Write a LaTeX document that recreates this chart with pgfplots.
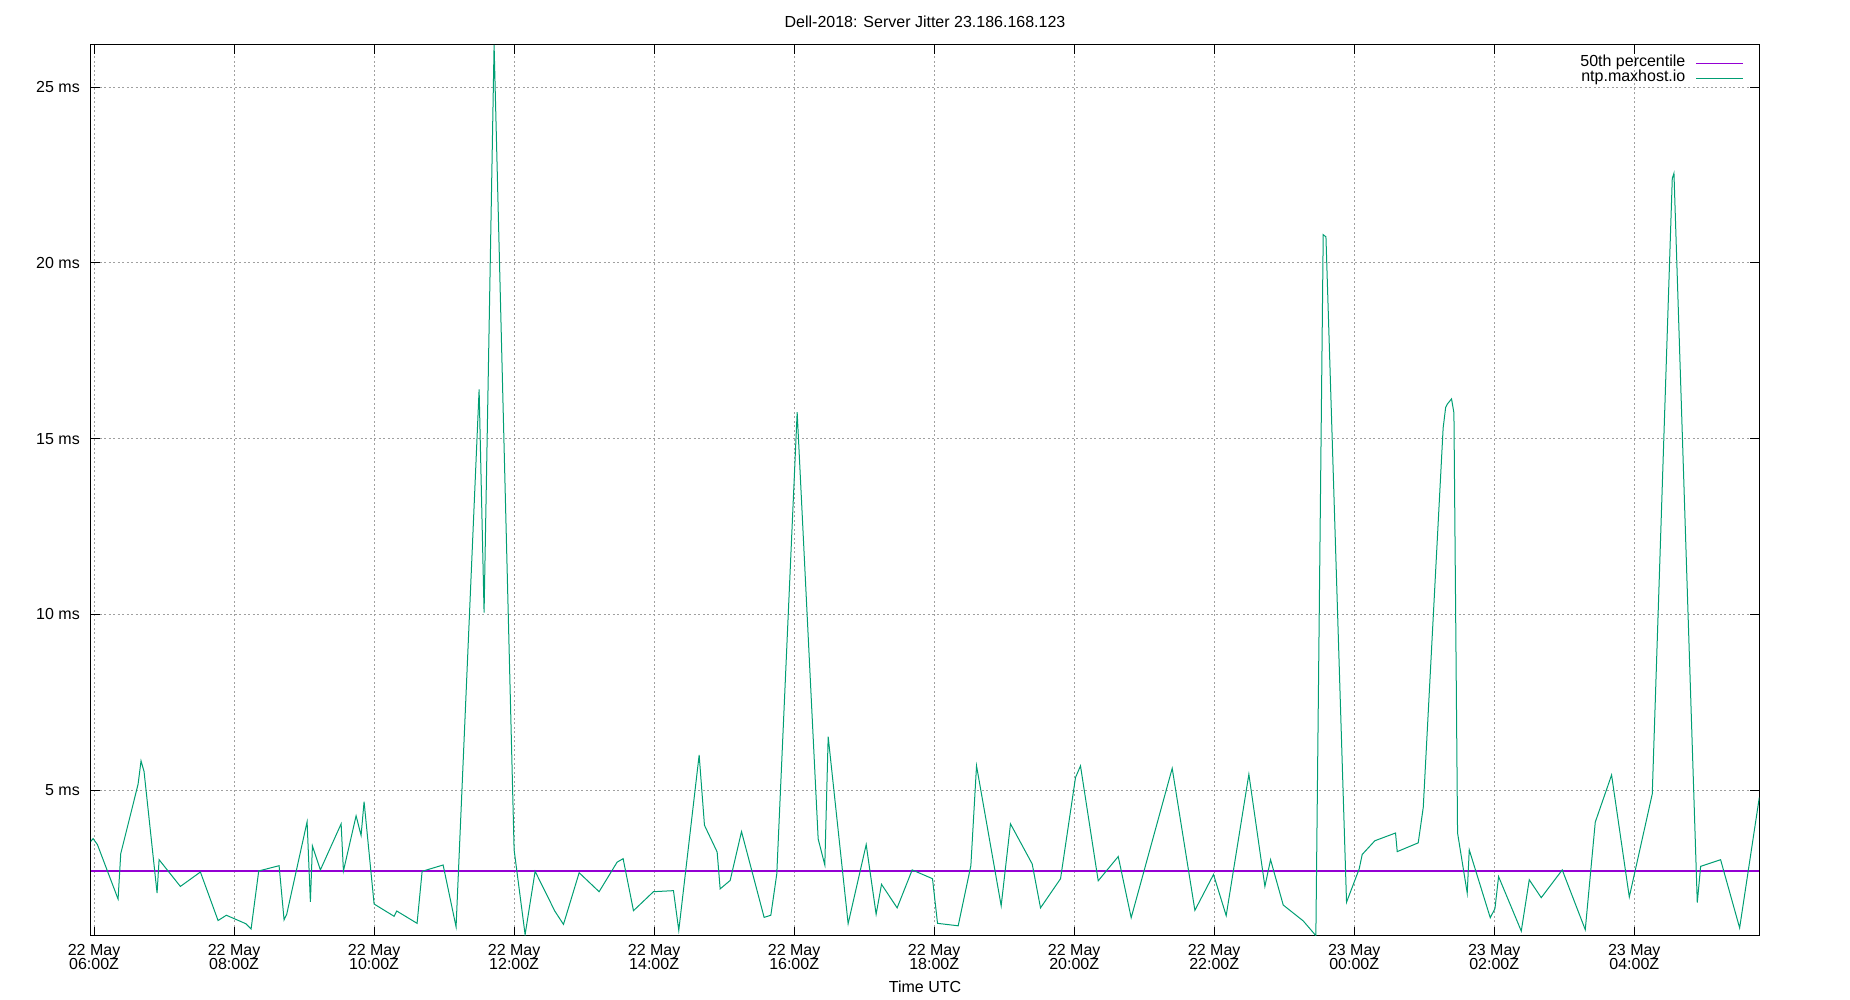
\documentclass[border=0pt]{standalone}
\usepackage{fontspec}
\setmainfont{Liberation Sans}
\usepackage{pgfplots}
\pgfplotsset{compat=1.18}
\definecolor{gpgreen}{HTML}{009E73}
\definecolor{gppurple}{HTML}{9400D3}
\definecolor{gpgrid}{HTML}{A0A0A0}
\newcommand{\tl}[2]{\vtop{\baselineskip=14.3pt\lineskiplimit=-20pt\lineskip=0pt\halign{\hfil##\hfil\cr#1\cr#2\cr}}}
\begin{document}
\begin{tikzpicture}
\useasboundingbox (0,0) rectangle (1850pt,1000pt);
\begin{axis}[
  at={(90.7pt,64pt)}, anchor=south west,
  scale only axis, width=1668.6pt, height=891.1pt,
  xmin=5.952, xmax=29.786, ymin=0.85, ymax=26.2,
  axis line style={black, line width=1pt},
  xtick={6,8,10,12,14,16,18,20,22,24,26,28},
  xticklabels={\tl{22 May}{06:00Z},\tl{22 May}{08:00Z},\tl{22 May}{10:00Z},\tl{22 May}{12:00Z},\tl{22 May}{14:00Z},\tl{22 May}{16:00Z},\tl{22 May}{18:00Z},\tl{22 May}{20:00Z},\tl{22 May}{22:00Z},\tl{23 May}{00:00Z},\tl{23 May}{02:00Z},\tl{23 May}{04:00Z}},
  ytick={5,10,15,20,25},
  yticklabels={5 ms,10 ms,15 ms,20 ms,25 ms},
  tick align=inside, xtick pos=both, ytick pos=both,
  major tick length=9pt,
  every tick/.style={black, line width=1pt},
  xticklabel style={anchor=north, inner sep=0pt, yshift=-8pt,
    font=\fontsize{16}{14.3}\selectfont},
  yticklabel style={anchor=east, inner sep=0pt, xshift=-10.7pt,
    font=\fontsize{16}{14.3}\selectfont},
  grid=major,
  major grid style={gpgrid, line width=1pt, dash pattern=on 2pt off 2.5pt},
  xlabel={Time UTC},
  xlabel style={at={(axis description cs:0.5,0)}, anchor=center, yshift=-51pt, inner sep=0pt,
    font=\fontsize{16}{14.3}\selectfont},
  legend plot pos=right,
  legend cell align=right,
  legend image code/.code={\draw[#1] (0pt,0pt) -- (46.5pt,0pt);},
  legend style={draw=none, fill=none, inner sep=0pt, anchor=north east,
    at={(axis description cs:0.99045,0.98788)},
    font=\fontsize{16}{14.3}\selectfont,
    nodes={inner sep=0pt, text height=11pt, text depth=4pt},
    row sep=-0.3pt, column sep=10pt},
]
\addplot[gppurple, line width=1.3pt] coordinates {(5.952,2.70) (29.786,2.70)};
\addlegendentry{50th percentile}
\addplot[gpgreen, line width=1pt] coordinates {
(5.952,3.54) (5.986,3.62) (6.048,3.45) (6.343,1.90) (6.381,3.19)
(6.629,5.17) (6.671,5.83) (6.714,5.53) (6.900,2.07) (6.929,3.02)
(7.233,2.26) (7.519,2.67) (7.771,1.29) (7.890,1.44) (8.167,1.20)
(8.243,1.05) (8.352,2.70) (8.643,2.85) (8.714,1.31) (8.752,1.47)
(9.043,4.10) (9.090,1.82) (9.119,3.41) (9.233,2.73) (9.529,4.04)
(9.562,2.70) (9.743,4.27) (9.814,3.71) (9.857,4.67) (10.000,1.76)
(10.286,1.41) (10.324,1.56) (10.614,1.21) (10.686,2.69) (10.986,2.87)
(11.171,1.11) (11.500,16.40) (11.571,10.05) (11.714,26.20) (12.000,3.30)
(12.157,0.89) (12.300,2.69) (12.581,1.56) (12.705,1.18) (12.929,2.65)
(13.214,2.11) (13.471,2.95) (13.557,3.05) (13.705,1.57) (13.990,2.11)
(14.276,2.14) (14.352,1.01) (14.643,6.00) (14.719,4.00) (14.900,3.24)
(14.943,2.19) (15.086,2.43) (15.248,3.82) (15.571,1.38) (15.667,1.44)
(15.752,2.62) (16.043,15.75) (16.343,3.61) (16.438,2.87) (16.486,6.52)
(16.771,1.20) (17.029,3.45) (17.171,1.47) (17.248,2.32) (17.471,1.65)
(17.686,2.73) (17.976,2.48) (18.048,1.21) (18.343,1.14) (18.524,2.85)
(18.605,5.69) (18.957,1.71) (19.090,4.04) (19.400,2.90) (19.519,1.65)
(19.805,2.48) (20.019,5.36) (20.090,5.69) (20.343,2.42) (20.629,3.11)
(20.814,1.37) (21.400,5.62) (21.724,1.58) (21.990,2.60) (22.171,1.43)
(22.495,5.45) (22.724,2.26) (22.805,3.02) (22.986,1.73) (23.271,1.28)
(23.452,0.86) (23.557,20.80) (23.596,20.74) (23.890,1.81) (24.071,2.76)
(24.114,3.17) (24.295,3.56) (24.590,3.78) (24.614,3.25) (24.914,3.50)
(24.986,4.51) (25.270,15.30) (25.306,15.89) (25.329,15.98) (25.390,16.13)
(25.424,15.73) (25.476,3.78) (25.614,2.07) (25.643,3.30) (25.943,1.37)
(26.010,1.63) (26.062,2.54) (26.386,0.99) (26.500,2.45) (26.671,1.94)
(26.971,2.73) (27.300,1.03) (27.443,4.09) (27.676,5.43) (27.929,1.96)
(28.257,4.89) (28.543,22.40) (28.567,22.55) (28.900,1.80) (28.948,2.83)
(29.233,3.02) (29.505,1.08) (29.786,4.79)
};
\addlegendentry{ntp.maxhost.io}
\end{axis}
\node[font=\fontsize{16}{19}\selectfont, anchor=center, inner sep=0pt] at (925pt,978.7pt) {Dell-2018: Server Jitter 23.186.168.123};
\end{tikzpicture}
\end{document}
